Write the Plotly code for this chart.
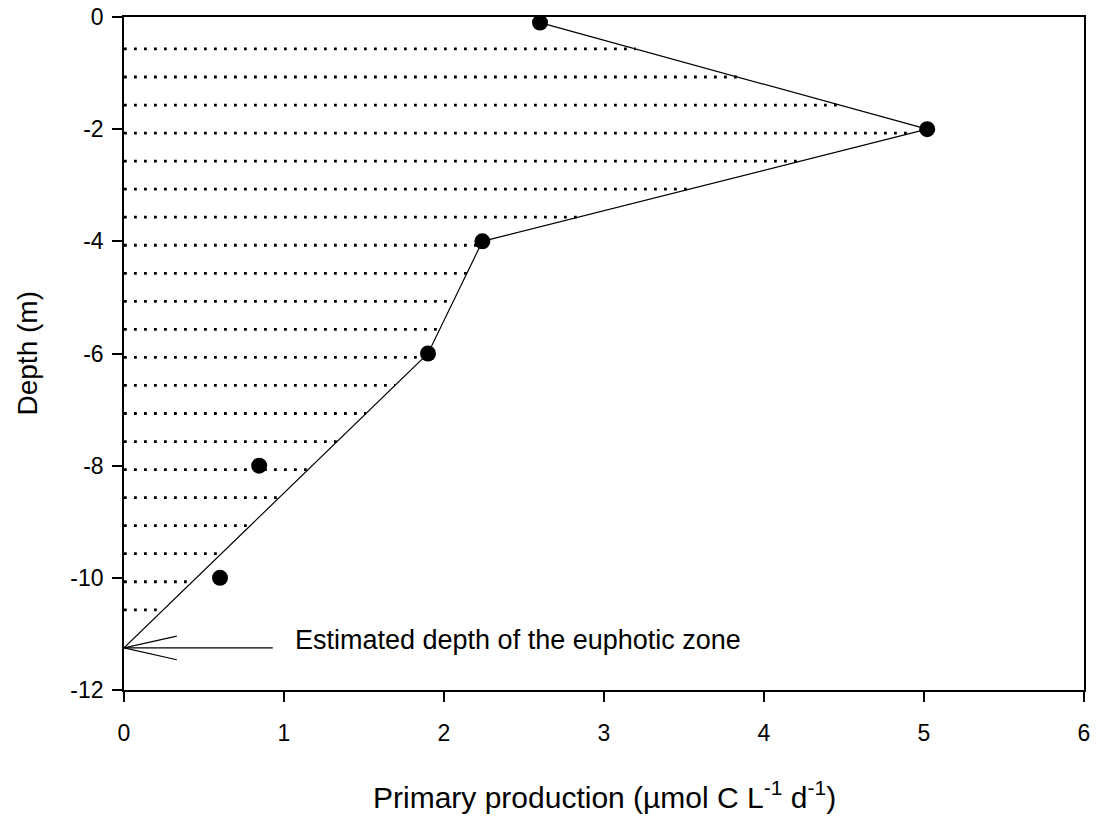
import numpy as np
import plotly.graph_objects as go

# Measured data
depth = [-0.1, -2, -4, -6, -8, -10]
primary_production = [2.6, 5.02, 2.24, 1.9, 0.845, 0.6]

# Profile line: first four measurements then extrapolated to euphotic depth
euphotic_depth = -11.25
line_pp = primary_production[:4] + [0.0]
line_depth = depth[:4] + [euphotic_depth]

# Hatch (integrated area) spacing
hatch_depths = list(np.arange(-0.57, -10.6, -0.5))

x_ticks = [0, 1, 2, 3, 4, 5, 6]
y_ticks = [0, -2, -4, -6, -8, -10, -12]
y_ticktext = ["0", "-2", "-4", "-6", "-8", "-10", "-12"]

annotation_text = "Estimated depth of the euphotic zone"
x_title = "Primary production (µmol C L<sup>-1</sup> d<sup>-1</sup>)"
y_title = "Depth (m)"

FONT = "Liberation Sans, Arial, sans-serif"

fig = go.Figure()

# hatch lines from x=0 to the profile line
yy = np.array(line_depth[::-1])
xx = np.array(line_pp[::-1])
for hd in hatch_depths:
    xe = float(np.interp(hd, yy, xx))
    fig.add_trace(go.Scatter(x=[0, xe], y=[hd, hd], mode="lines",
                             line=dict(color="black", width=2.8, dash="2.8px,7.2px"),
                             hoverinfo="skip", showlegend=False))

# profile line
fig.add_trace(go.Scatter(x=line_pp, y=line_depth, mode="lines",
                         line=dict(color="black", width=1.2), showlegend=False))

# points
fig.add_trace(go.Scatter(x=primary_production, y=depth, mode="markers",
                         marker=dict(color="black", size=16), showlegend=False))

# arrow shaft and open head
arrow_len = 0.93
head_len = 0.33
head_half = 0.21
fig.add_trace(go.Scatter(x=[arrow_len, 0], y=[euphotic_depth, euphotic_depth], mode="lines",
                         line=dict(color="black", width=1.2), hoverinfo="skip", showlegend=False))
fig.add_trace(go.Scatter(x=[head_len, 0, head_len],
                         y=[euphotic_depth + head_half, euphotic_depth, euphotic_depth - head_half],
                         mode="lines", line=dict(color="black", width=1.2),
                         hoverinfo="skip", showlegend=False))

fig.add_annotation(x=1.056, y=euphotic_depth + 0.14, xref="x", yref="y", text=annotation_text,
                   showarrow=False, xanchor="left", yanchor="middle",
                   font=dict(family=FONT, size=27, color="black"))

fig.add_annotation(x=0.5, y=0, xref="paper", yref="paper", yshift=-105, text=x_title,
                   showarrow=False, xanchor="center", yanchor="middle",
                   font=dict(family=FONT, size=30, color="black"))
fig.add_annotation(x=0, y=0.5, xref="paper", yref="paper", xshift=-97, text=y_title,
                   textangle=-90, showarrow=False, xanchor="center", yanchor="middle",
                   font=dict(family=FONT, size=28, color="black"))

fig.update_layout(
    width=1096, height=816,
    margin=dict(l=124, r=12, t=17, b=126),
    paper_bgcolor="white", plot_bgcolor="white",
    font=dict(family=FONT, size=23, color="black"),
    showlegend=False,
)
fig.update_xaxes(range=[0, 6], tickvals=x_ticks, showgrid=False, zeroline=False,
                 showline=True, linecolor="black", linewidth=1.6, mirror=True,
                 ticks="outside", ticklen=10, tickwidth=1.5, tickcolor="black",
                 ticklabelstandoff=12,
                 tickfont=dict(family=FONT, size=23, color="black"), automargin=False)
fig.update_yaxes(range=[-12, 0], tickvals=y_ticks, ticktext=y_ticktext, showgrid=False,
                 zeroline=False, showline=True, linecolor="black", linewidth=1.6, mirror=True,
                 ticks="outside", ticklen=10, tickwidth=1.5, tickcolor="black",
                 ticklabelstandoff=4,
                 tickfont=dict(family=FONT, size=23, color="black"), automargin=False)

fig.write_html("out.html", config={"displayModeBar": False},
               post_script="document.body.style.margin='0';document.body.style.overflow='hidden';")
